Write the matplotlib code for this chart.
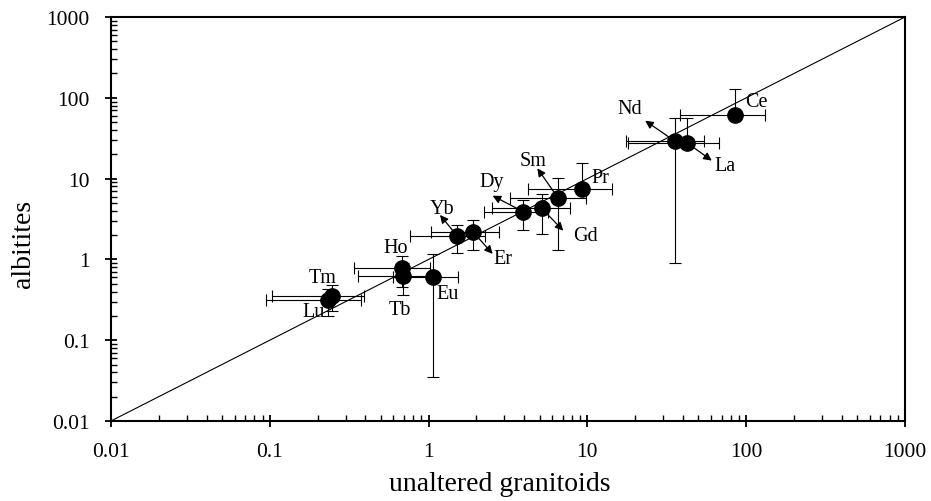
from __future__ import annotations

import matplotlib

matplotlib.use("Agg")
import matplotlib.pyplot as plt
import numpy as np
from matplotlib.ticker import FixedFormatter, FixedLocator, LogLocator, NullFormatter

# REE means: unaltered granitoids (x) vs albitites (y), with 1 sd
elements = ["La", "Ce", "Pr", "Nd", "Sm", "Eu", "Gd", "Tb", "Dy", "Ho", "Er", "Tm", "Yb", "Lu"]
granitoids = [42.6, 85.0, 9.2, 35.8, 6.56, 1.07, 5.15, 0.69, 3.95, 0.68, 1.90, 0.248, 1.52, 0.234]
granitoids_sd = [24.5, 46.5, 5.0, 18.3, 3.3, 0.47, 2.65, 0.33, 1.72, 0.34, 0.87, 0.145, 0.76, 0.14]
albitites = [27.6, 61.0, 7.4, 28.8, 5.7, 0.60, 4.29, 0.63, 3.89, 0.78, 2.20, 0.356, 1.93, 0.317]
albitites_sd = [29.0, 67.0, 8.1, 27.9, 4.4, 0.565, 2.25, 0.27, 1.6, 0.32, 0.89, 0.126, 0.72, 0.116]

decade_ticks = [0.01, 0.1, 1, 10, 100, 1000]
decade_labels = ["0.01", "0.1", "1", "10", "100", "1000"]

# where each element name sits, and (for some) where its arrow points
label_pos = {
    "Ce": (116, 89.5), "Nd": (18.4, 74.1), "La": (73.5, 14.4), "Pr": (12.1, 10.4),
    "Sm": (4.53, 16.7), "Gd": (9.66, 2.0), "Dy": (2.5, 9.16), "Yb": (1.21, 4.29),
    "Er": (2.95, 1.03), "Ho": (0.623, 1.41), "Tb": (0.66, 0.243), "Eu": (1.31, 0.373),
    "Tm": (0.215, 0.60), "Lu": (0.188, 0.225),
}
arrow_head = {
    "Nd": (23.1, 52.1), "La": (60.7, 16.7), "Sm": (4.84, 13.4), "Gd": (7.05, 2.27),
    "Dy": (2.53, 6.14), "Yb": (1.18, 3.55), "Er": (2.53, 1.17),
}


def _lower(vals, sds):
    # lower bar is dropped where value - sd would go below zero (log axis)
    return [s if v - s > 0 else 0.0 for v, s in zip(vals, sds)]


def main() -> None:
    plt.rcParams["font.family"] = ["Liberation Serif", "DejaVu Serif"]
    fig = plt.figure(figsize=(9.31, 5.02), dpi=100)
    ax = fig.add_axes([0.1192, 0.1594, 0.8529, 0.8047])

    x = np.array(granitoids)
    y = np.array(albitites)
    xerr = [_lower(granitoids, granitoids_sd), granitoids_sd]
    yerr = [_lower(albitites, albitites_sd), albitites_sd]

    lims = [decade_ticks[0], decade_ticks[-1]]
    ax.plot(lims, lims, color="black", lw=0.8, zorder=1)

    ax.errorbar(x, y, xerr=xerr, yerr=yerr, fmt="none", ecolor="black",
                elinewidth=0.8, capsize=4.5, capthick=0.8, zorder=2)
    ax.plot(x, y, "o", color="black", markersize=11, zorder=4)

    for i, el in enumerate(elements):
        lx, ly = label_pos[el]
        ax.text(lx, ly, el, ha="center", va="center", fontsize=14.5, zorder=5)
        if el in arrow_head:
            ax.annotate("", xy=arrow_head[el], xytext=(x[i], y[i]),
                        arrowprops=dict(arrowstyle="-|>", color="black", lw=0.9,
                                        mutation_scale=12, shrinkA=0, shrinkB=0),
                        zorder=3)

    ax.set_xscale("log")
    ax.set_yscale("log")
    ax.set_xlim(lims)
    ax.set_ylim(lims)

    for axis in (ax.xaxis, ax.yaxis):
        axis.set_major_locator(FixedLocator(decade_ticks))
        axis.set_major_formatter(FixedFormatter(decade_labels))
        axis.set_minor_locator(LogLocator(base=10, subs=np.arange(2, 10)))
        axis.set_minor_formatter(NullFormatter())

    ax.tick_params(which="major", direction="inout", length=8.6, width=1.3,
                   labelsize=15.5, top=False, right=False)
    ax.tick_params(which="minor", direction="in", length=4.3, width=1.0,
                   top=False, right=False)
    ax.tick_params(axis="x", which="major", pad=11)
    ax.tick_params(axis="y", which="major", pad=11)
    for sp in ax.spines.values():
        sp.set_linewidth(1.5)

    ax.set_xlabel("unaltered granitoids", fontsize=20)
    ax.set_ylabel("albitites", fontsize=20)
    ax.xaxis.set_label_coords(0.49, -0.124)
    ax.yaxis.set_label_coords(-0.095, 0.44)

    fig.savefig("out.png", dpi=100)
    plt.close(fig)


if __name__ == "__main__":
    main()
